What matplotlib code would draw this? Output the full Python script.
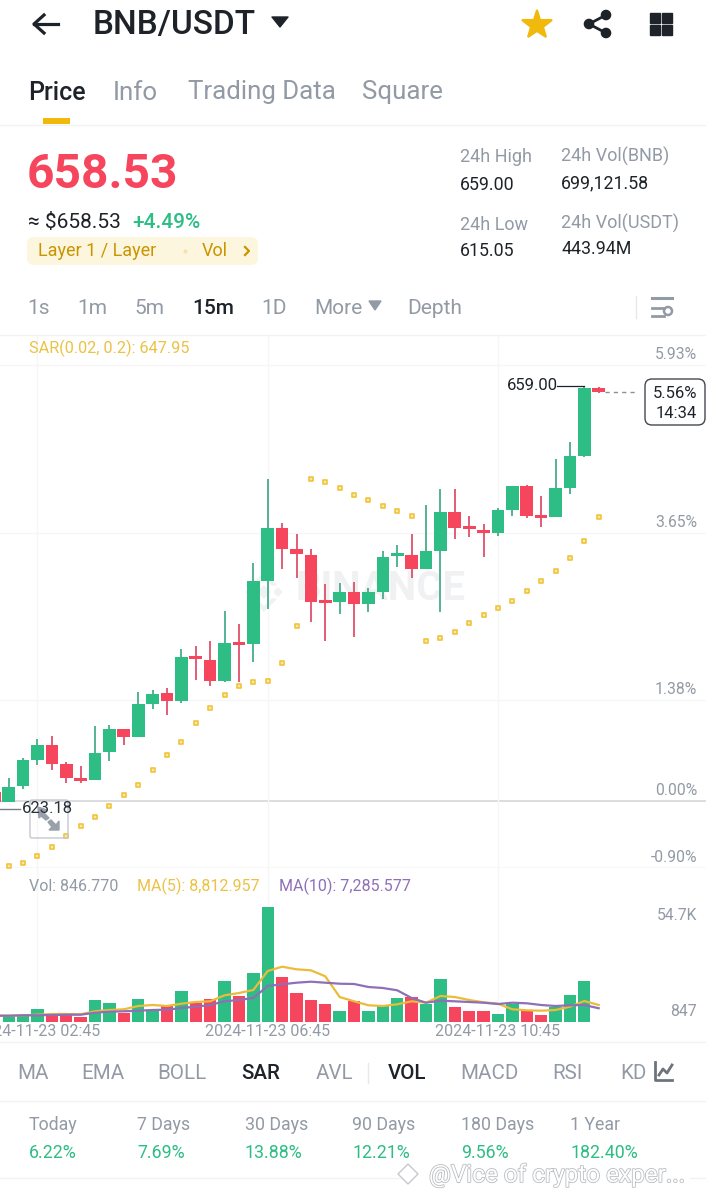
import matplotlib
matplotlib.use('Agg')
import matplotlib.pyplot as plt
import matplotlib.patheffects as pe
from matplotlib.patches import Rectangle, FancyBboxPatch, Polygon, Circle

#-----------------------------------------------------------
W, H = 706, 1196
plt.rcParams['font.family'] = ['Roboto', 'DejaVu Sans']

idx = list(range(43))
open_p = [624.67, 623.82, 625.15, 627.35, 628.65, 627.01, 625.77, 625.63, 628.03, 629.98, 629.28, 632.12, 633.01,
          632.35, 636.11, 635.85, 634.02, 637.27, 637.16, 642.55, 647.02, 645.24, 644.73, 640.77, 640.77, 641.57,
          640.55, 641.62, 644.64, 644.75, 643.54, 645.09, 648.40, 647.02, 646.85, 646.59, 648.54, 650.58, 647.97,
          647.92, 650.43, 653.12, 658.88]
close_p = [623.82, 625.09, 627.33, 628.65, 627.04, 625.80, 625.60, 627.97, 629.98, 629.30, 632.10, 632.97, 632.35,
           636.11, 635.91, 634.02, 637.24, 637.13, 642.52, 647.02, 645.24, 644.79, 640.77, 640.63, 641.57, 640.55,
           641.62, 644.58, 644.75, 643.54, 645.09, 648.40, 647.04, 646.91, 646.62, 648.52, 650.55, 648.01, 647.84,
           650.41, 653.09, 658.88, 658.54]
high_p = [624.67, 625.83, 627.52, 629.11, 629.41, 627.16, 626.84, 630.23, 630.29, 629.98, 633.14, 633.29, 633.48,
          636.74, 637.02, 637.41, 640.01, 638.88, 644.02, 651.14, 647.42, 646.51, 645.21, 642.27, 642.33, 642.46,
          641.91, 645.04, 645.60, 646.51, 648.94, 650.30, 650.30, 648.03, 647.33, 648.69, 650.55, 650.64, 649.75,
          652.87, 654.33, 658.99, 658.99]
low_p = [623.82, 623.82, 624.87, 626.95, 626.53, 625.43, 625.43, 625.63, 627.27, 628.65, 629.28, 631.68, 631.14,
         632.21, 634.11, 633.62, 633.94, 633.99, 635.63, 640.13, 643.52, 642.75, 639.02, 637.46, 639.73, 637.80,
         639.92, 641.02, 643.69, 642.75, 643.54, 639.92, 646.06, 646.23, 644.58, 646.36, 648.01, 647.89, 647.10,
         647.92, 649.90, 653.01, 658.43]
sar = [None, 618.37, 618.65, 619.19, 619.98, 620.91, 621.76, 622.52, 623.45, 624.41, 625.23, 626.50, 627.75, 628.88,
       630.46, 631.76, 632.89, 633.65, 633.94, 634.02, 635.60, 638.74, 651.14, 650.92, 650.38, 649.84, 649.36, 648.88,
       648.43, 648.01, 637.46, 637.69, 638.20, 638.94, 639.62, 640.26, 640.83, 641.65, 642.55, 643.37, 644.50, 645.89,
       647.97]
vol = [3985, 3985, 3657, 6935, 3985, 3985, 3329, 11150, 9885, 5202, 11478, 5858, 8199, 15224, 9885, 11618, 20188,
       13023, 23794, 54700, 21921, 14287, 11290, 9276, 5858, 10822, 5998, 8668, 12086, 12414, 9417, 21125, 8012,
       5998, 5858, 4453, 9417, 6467, 4266, 8012, 13632, 20047, 846.77]
ma5 = [3797, 3797, 3985, 4266, 4593, 4593, 4453, 5858, 6466, 6794, 8340, 8807, 8340, 9416, 10212, 10540, 13350, 14426,
       15832, 24729, 26742, 25525, 25057, 22247, 12554, 10540, 8668, 8340, 9135, 10540, 9885, 13023, 12554, 11149, 10072,
       9416, 6794, 6326, 6138, 6466, 8012, 10681, 8812]
ma10 = [3797, 3797, 3985, 3985, 4125, 4266, 4266, 5202, 5671, 5858, 6138, 6466, 6607, 7402, 8012, 8807, 10540, 11149,
        12085, 17705, 18501, 19250, 19719, 19250, 18781, 18641, 17237, 16768, 15691, 12085, 9885, 10821, 10540, 10212,
        9885, 9276, 9885, 9604, 8807, 8340, 8668, 8807, 7285]

base_price = 623.84
pct_ticks = [5.93, 3.65, 1.38, 0.00, -0.90]
grid_idx = [3, 19, 35]
date_labels = ['2024-11-23 02:45', '2024-11-23 06:45', '2024-11-23 10:45']

c_up, c_down, c_sar, c_ma10 = '#2EBD85', '#F6465D', '#F0C43C', '#8E6FB8'
c_txt, c_grey, c_grid = '#1E2329', '#929AA5', '#F6F6F6'

tabs_main = [('Price', 28, c_txt), ('Info', 113, c_grey), ('Trading Data', 188, c_grey), ('Square', 362, c_grey)]
tabs_time = [('1s', 27, c_grey), ('1m', 77, c_grey), ('5m', 134, c_grey), ('15m', 192, c_txt), ('1D', 261, c_grey),
             ('More', 314, c_grey), ('Depth', 407, c_grey)]
tabs_ind = [('MA', 17), ('EMA', 81), ('BOLL', 157), ('SAR', 241), ('AVL', 316), ('VOL', 388), ('MACD', 460),
            ('RSI', 552), ('KD', 620)]
period_names = ['Today', '7 Days', '30 Days', '90 Days', '180 Days', '1 Year']
period_vals = ['6.22%', '7.69%', '13.88%', '12.21%', '9.56%', '182.40%']
period_x = [29, 137, 245, 352, 461, 570]

#-----------------------------------------------------------
fig = plt.figure(figsize=(W/100, H/100), dpi=100, facecolor='white')

def ax_px(top, bottom):
	return fig.add_axes([0, 1-bottom/H, 1, (bottom-top)/H])

def x_lim():
	return (1-8.7/14.39, 1+(W-8.7)/14.39)

#watermark sits under the candles
bg = fig.add_axes([0, 0, 1, 1], zorder=-1)
bg.set_xlim(0, W)
bg.set_ylim(H, 0)
bg.axis('off')
bg.text(296, 589, 'BINANCE', fontsize=29, color='#F0F1F2', weight='bold', va='center')
for cx, cy, r in [(264, 592, 6), (250, 592, 4), (278, 592, 4)]:
	bg.add_patch(Polygon([[cx, cy-r], [cx+r, cy], [cx, cy+r], [cx-r, cy]], color='#F0F1F2'))
bg.add_patch(Polygon([[264, 573], [276, 585], [272, 585], [264, 577], [256, 585], [252, 585]], color='#F0F1F2'))
bg.add_patch(Polygon([[264, 611], [276, 599], [272, 599], [264, 607], [256, 599], [252, 599]], color='#F0F1F2'))

#price panel
ax = ax_px(335, 868)
ax.set_xlim(x_lim())
ax.set_ylim(618.2, 663.38)
ax.axis('off')
for p in pct_ticks:
	price = base_price*(1+p/100)
	col = '#D5D7DA' if p == 0 else c_grid
	ax.axhline(price, color=col, lw=1.2 if p == 0 or p == -0.90 else 1, zorder=1)
	ax.annotate(f'{p:.2f}%', xy=(1, price), xycoords=ax.get_yaxis_transform(), xytext=(-9, 3), textcoords='offset pixels',
		ha='right', va='bottom', fontsize=11.3, color=c_grey)
for g in grid_idx:
	ax.axvline(g, color=c_grid, lw=1, zorder=1)
for i in idx:
	up = close_p[i] >= open_p[i]
	col = c_up if up else c_down
	ax.vlines(i, low_p[i], high_p[i], color='#45AD8C' if up else '#E0506A', lw=1.3, zorder=3)
	b0, b1 = sorted([open_p[i], close_p[i]])
	ax.add_patch(Rectangle((i-0.44, b0), 0.88, max(b1-b0, 0.25), color=col, lw=0, zorder=4))
ax.scatter([i for i in idx if sar[i]], [s for s in sar if s], marker='s', s=9, facecolor='#FBE9A8', edgecolor=c_sar, lw=1.2, zorder=5)

#volume panel, axis floor is the 847 label
av = ax_px(868, 1022)
av.set_xlim(x_lim())
av.set_ylim(846.77, 846.77+154*468.3)
av.axis('off')
for g in grid_idx:
	av.axvline(g, color=c_grid, lw=1, zorder=1)
cols = [c_up if close_p[i] >= open_p[i] else c_down for i in idx]
av.bar(idx, vol, width=0.86, color=cols, zorder=3)
av.plot(idx, ma5, color='#EBBB3A', lw=1.6, zorder=4)
av.plot(idx, ma10, color=c_ma10, lw=1.6, zorder=5)

#ui layer in pixel coords
ui = fig.add_axes([0, 0, 1, 1], zorder=10)
ui.set_xlim(0, W)
ui.set_ylim(H, 0)
ui.axis('off')
ui.patch.set_alpha(0)

def t(x, y, s, fs=12, col=c_txt, ha='left', **kw):
	ui.text(x, y+1.5, s, fontsize=fs, color=col, ha=ha, va='center', **kw)

def hline(y, col='#F1F2F3', x0=0, x1=W, lw=1):
	ui.plot([x0, x1], [y, y], color=col, lw=lw)

#header
ui.plot([34, 58], [24, 24], color=c_txt, lw=2.3)
ui.plot([44, 34, 44], [15, 24, 33], color=c_txt, lw=2.3)
t(93, 24, 'BNB/USDT', 24, weight='medium')
ui.add_patch(Polygon([[272, 17], [288, 17], [280, 27]], color=c_txt, joinstyle='round'))
ui.plot([537], [25], marker='*', ms=22, color='#F0B90B', mec='#F0B90B', mew=1.5)
for cx, cy in [(589, 24), (606, 15), (606, 33)]:
	ui.add_patch(Circle((cx, cy), 4.6, color=c_txt))
ui.plot([606, 589, 606], [15, 24, 33], color=c_txt, lw=2)
for gx, gy in [(650, 13), (662, 13), (650, 25), (662, 25)]:
	ui.add_patch(Rectangle((gx, gy), 10, 10, color=c_txt))

#main tabs
for s, x, col in tabs_main:
	t(x, 91, s, 18 if s == 'Price' else 18.6, col, weight='medium' if s == 'Price' else 'normal')
ui.add_patch(Rectangle((43, 118), 27, 6, color='#F0B90B', lw=0))
hline(124.5)

#price block
t(27, 174, '658.53', 34.5, c_down, weight='bold')
t(28, 221, '≈ $658.53', 15, c_txt)
t(132, 221, '+4.49%', 15, c_up, weight='medium')
ui.add_patch(FancyBboxPatch((27, 237), 231, 28, boxstyle='round,pad=0,rounding_size=7', fc='#FDF6DF', ec='none'))
t(38, 250, 'Layer 1 / Layer', 13, '#C99400')
t(202, 250, 'Vol', 13, '#C99400')
ui.plot([245, 249, 245], [247, 251, 255], color='#C99400', lw=1.6)
ui.plot([185], [251], marker='o', ms=2, color='#F5E3A8')

for x, y, s, col in [(460, 156, '24h High', c_grey), (460, 183, '659.00', c_txt), (561, 155, '24h Vol(BNB)', c_grey),
		(561, 182, '699,121.58', c_txt), (460, 223, '24h Low', c_grey), (460, 249, '615.05', c_txt),
		(561, 222, '24h Vol(USDT)', c_grey), (561, 248, '443.94M', c_txt)]:
	t(x, y, s, 13 if col == c_grey else 12.8, col)

#time tabs
for s, x, col in tabs_time:
	t(x, 307, s, 15, col, weight='medium' if s == '15m' else 'normal')
ui.add_patch(Polygon([[369, 301], [381, 301], [375, 310]], color=c_grey))
ui.plot([636, 636], [296, 318], color='#E6E8EA', lw=1)
ui.plot([652, 672], [298, 298], color=c_grey, lw=2.2)
ui.plot([652, 664], [308, 308], color=c_grey, lw=2)
ui.plot([652, 664], [316, 316], color=c_grey, lw=2)
ui.add_patch(Circle((668, 311), 4, fc='white', ec=c_grey, lw=1.8))
hline(334.5)

t(29, 347, 'SAR(0.02, 0.2): 647.95', 11.7, '#EBC244')

#current price labels
t(507, 384, '659.00', 12, c_txt)
ui.plot([557, 584], [386, 386], color=c_txt, lw=0.9)
ui.plot([605, 637], [392, 392], color='#8A8F96', lw=1, ls=(0, (3, 3)))
ui.add_patch(FancyBboxPatch((645, 379), 60, 46, boxstyle='round,pad=0,rounding_size=7', fc='white', ec='#43484F', lw=1))
t(697, 392, '5.56%', 12, c_txt, ha='right')
t(697, 412, '14:34', 12, c_txt, ha='right')

#low marker and expand button
ui.plot([0, 20], [808.5, 808.5], color='#7A7F86', lw=1)
ui.add_patch(FancyBboxPatch((30, 800), 38, 38, boxstyle='round,pad=0,rounding_size=2', fc='none', ec='#C4C8CD', lw=1))
ui.add_patch(Polygon([[38, 807], [47, 810], [44, 813], [49, 818], [46, 820], [41, 816], [39, 818]], color='#99A0A9'))
ui.add_patch(Polygon([[59, 830], [49, 830], [52, 827], [48, 822], [51, 820], [56, 825], [59, 821]], color='#99A0A9'))
t(22, 807, '623.18', 12, '#2B3139')

#volume legend
t(29, 885, 'Vol: 846.770', 11.5, c_grey)
t(137, 885, 'MA(5): 8,812.957', 11.5, '#EBC244')
t(279, 885, 'MA(10): 7,285.577', 11.5, c_ma10)
t(697, 914, '54.7K', 11.3, c_grey, ha='right')
t(697, 1010, '847', 11.3, c_grey, ha='right')
for s, x in zip(date_labels, [-25, 205, 435]):
	t(x, 1030, s, 11.5, c_grey)
hline(1042)

#indicator tabs
for s, x in tabs_ind:
	t(x, 1072, s, 14.8, c_txt if s in ('SAR', 'VOL') else c_grey, weight='medium' if s in ('SAR', 'VOL') else 'normal')
ui.plot([368, 368], [1063, 1083], color='#E6E8EA', lw=1)
ui.add_patch(Rectangle((634, 1055), 72, 36, fc='white', alpha=0.65, lw=0))
ui.plot([655, 655, 672], [1062, 1080, 1080], color='#6D747D', lw=2)
ui.plot([659, 663, 667, 672], [1075, 1069, 1073, 1065], color='#6D747D', lw=2)
hline(1101)

#period stats
for n, v, x in zip(period_names, period_vals, period_x):
	t(x, 1124, n, 12.8, c_grey)
	t(x, 1152, v, 12.8, c_up)
hline(1178, x1=400)
hline(1178, x0=690)

#bottom watermark
t(429, 1174, '@Vice of crypto exper...', 17.5, 'white', path_effects=[
	pe.withStroke(linewidth=1.2, foreground='#B9BDC2')])
ui.add_patch(Polygon([[408, 1164], [418, 1174], [408, 1184], [398, 1174]], fc='white', ec='#C4C8CC', lw=1))

fig.savefig('out.png', dpi=100)
